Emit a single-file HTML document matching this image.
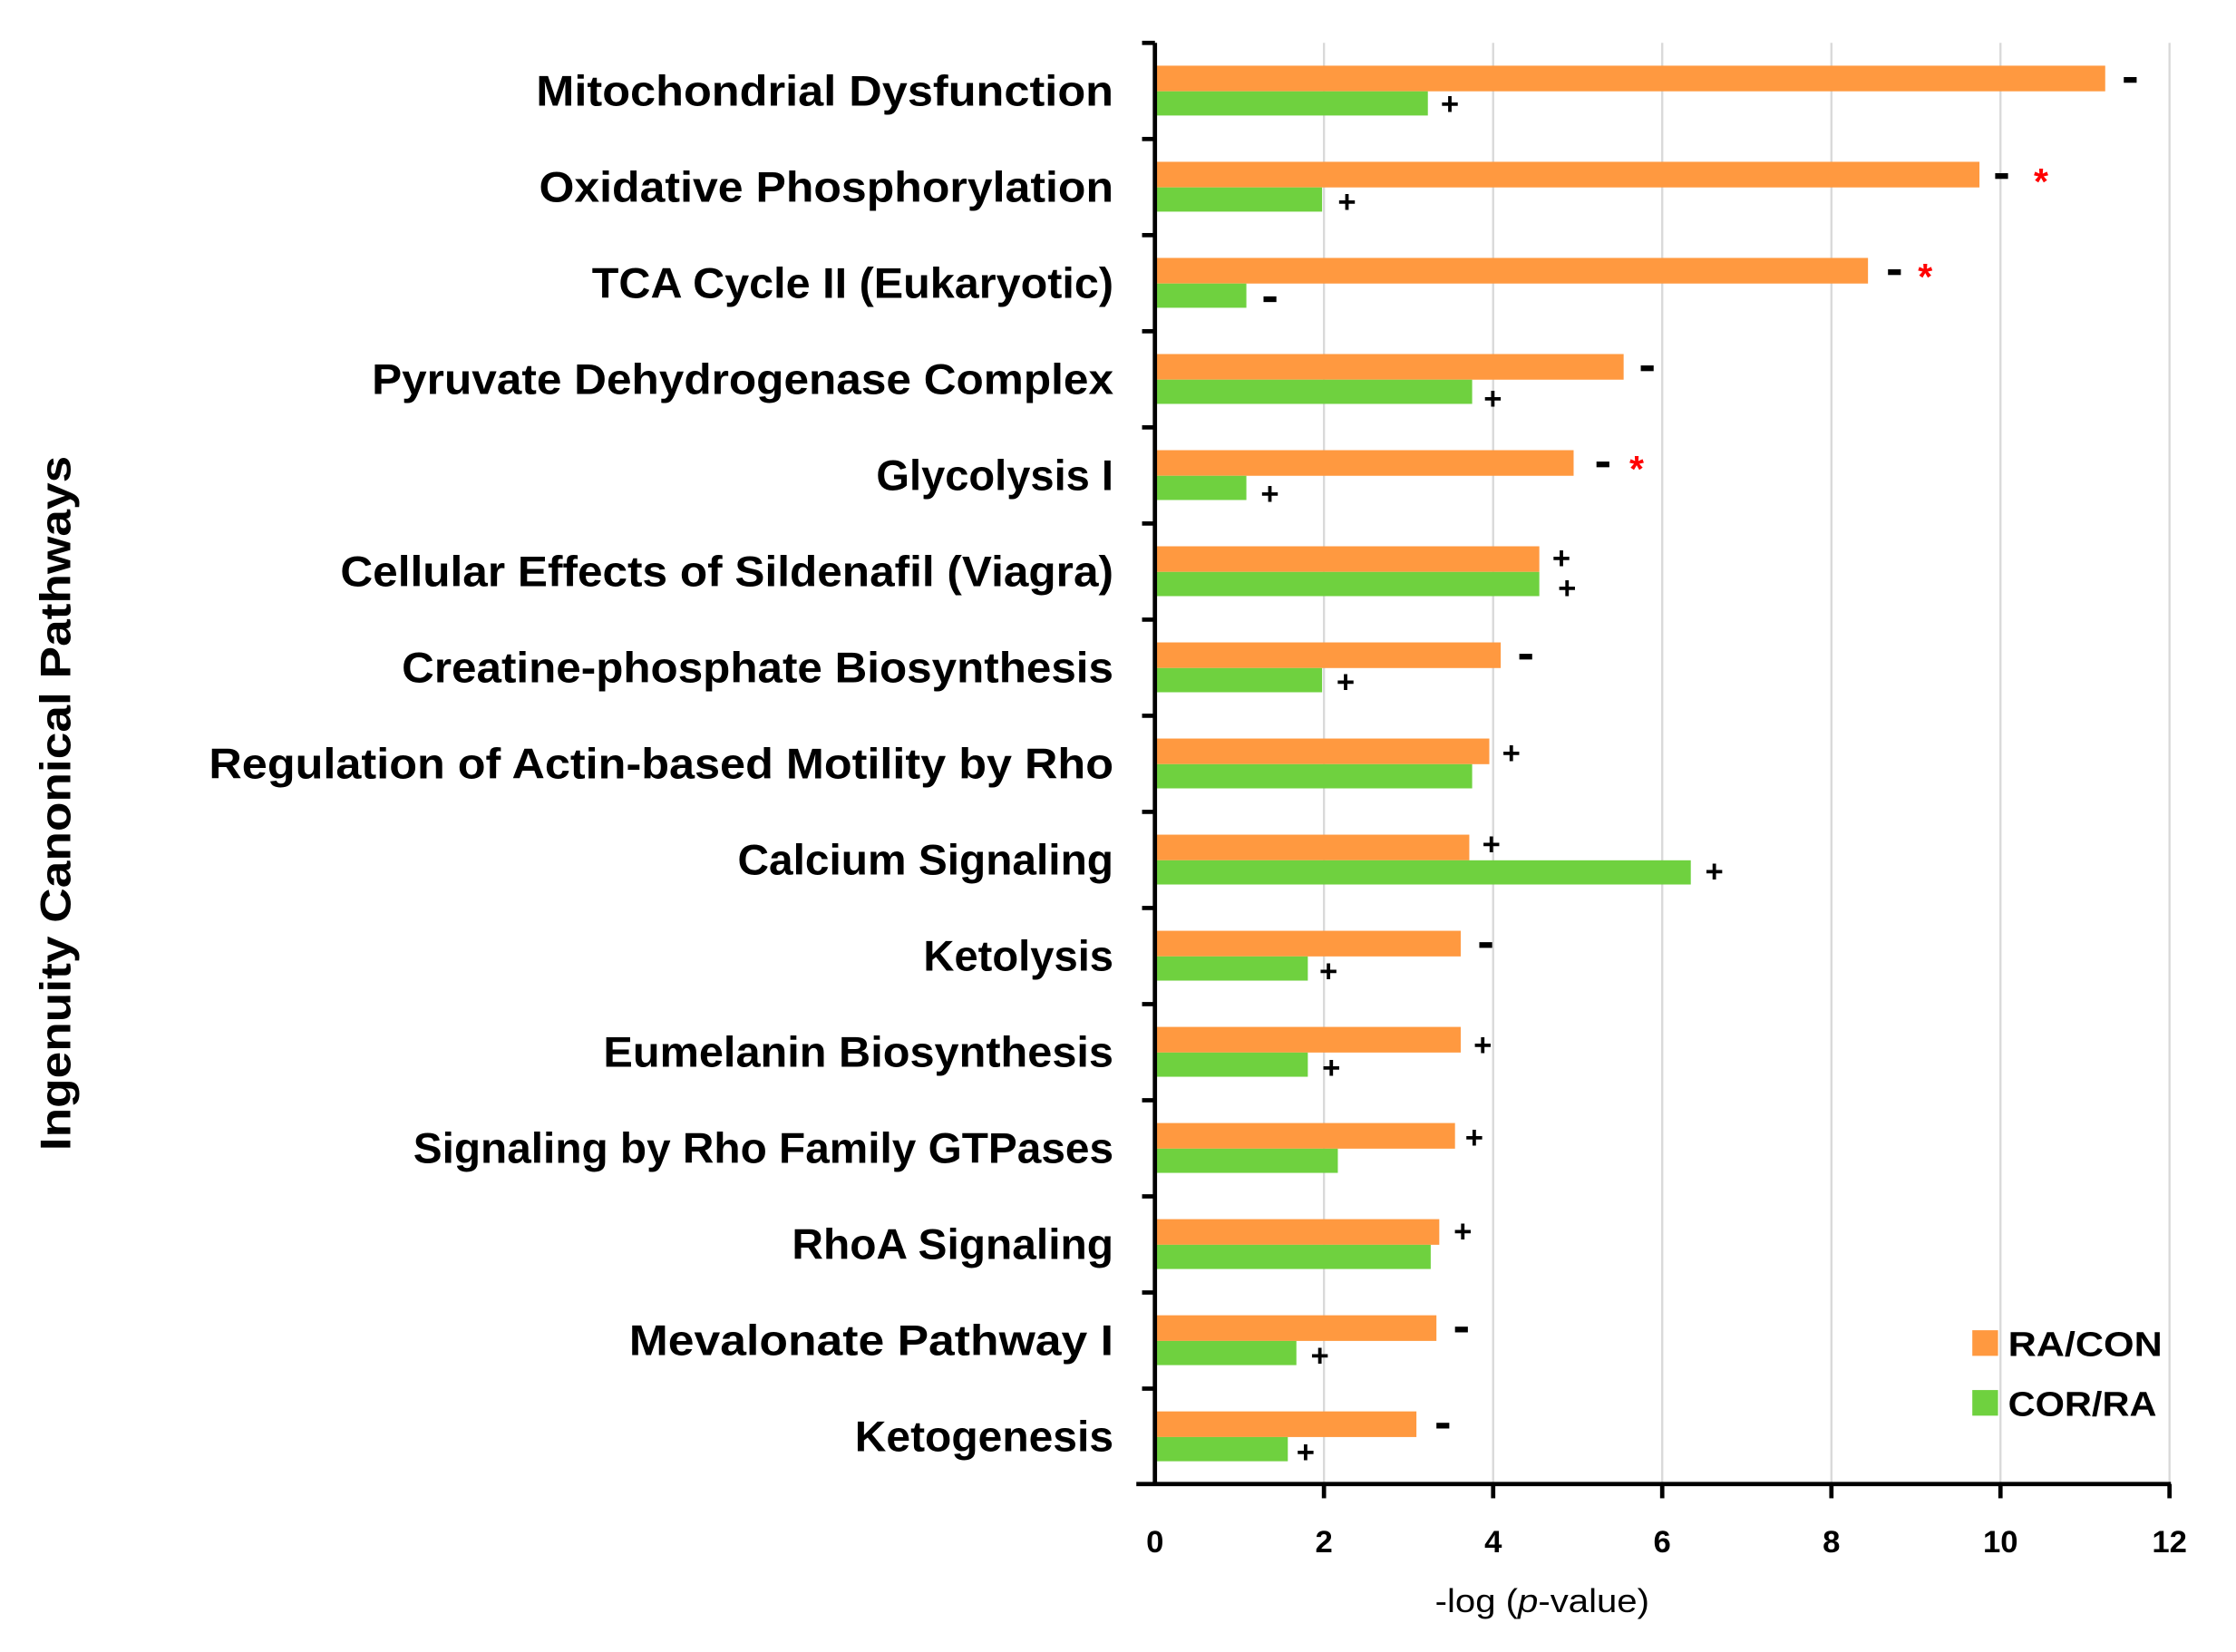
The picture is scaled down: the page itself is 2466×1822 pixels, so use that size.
<!DOCTYPE html>
<html><head><meta charset="utf-8"><style>
html,body{margin:0;padding:0;background:#fff;}
svg{display:block;}
text{font-family:"Liberation Sans",sans-serif;}
</style></head><body>
<svg width="2466" height="1822" viewBox="0 0 2466 1822" xmlns="http://www.w3.org/2000/svg">
<rect width="2466" height="1822" fill="#fff"/>
<g transform="translate(-12.3,0.18) scale(1.576,1.5706)">
<g stroke="#d9d9d9" stroke-width="1.5">
<line x1="934.3" y1="30" x2="934.3" y2="1042"/>
<line x1="1052.7" y1="30" x2="1052.7" y2="1042"/>
<line x1="1171" y1="30" x2="1171" y2="1042"/>
<line x1="1289.4" y1="30" x2="1289.4" y2="1042"/>
<line x1="1407.7" y1="30" x2="1407.7" y2="1042"/>
<line x1="1526" y1="30" x2="1526" y2="1042"/>
</g>
<g fill="#FF9940">
<rect x="816" y="46" width="665" height="18"/>
<rect x="816" y="113.5" width="577" height="18"/>
<rect x="816" y="181" width="499" height="18"/>
<rect x="816" y="248.5" width="328" height="18"/>
<rect x="816" y="316" width="293" height="18"/>
<rect x="816" y="383.5" width="269" height="18"/>
<rect x="816" y="451" width="242" height="18"/>
<rect x="816" y="518.5" width="234" height="18"/>
<rect x="816" y="586" width="220" height="18"/>
<rect x="816" y="653.5" width="214" height="18"/>
<rect x="816" y="721" width="214" height="18"/>
<rect x="816" y="788.5" width="210" height="18"/>
<rect x="816" y="856" width="199" height="18"/>
<rect x="816" y="923.5" width="197" height="18"/>
<rect x="816" y="991" width="183" height="18"/>
</g>
<g fill="#6FD13F">
<rect x="816" y="64" width="191" height="17"/>
<rect x="816" y="131.5" width="117" height="17"/>
<rect x="816" y="199" width="64" height="17"/>
<rect x="816" y="266.5" width="222" height="17"/>
<rect x="816" y="334" width="64" height="17"/>
<rect x="816" y="401.5" width="269" height="17"/>
<rect x="816" y="469" width="117" height="17"/>
<rect x="816" y="536.5" width="222" height="17"/>
<rect x="816" y="604" width="375" height="17"/>
<rect x="816" y="671.5" width="107" height="17"/>
<rect x="816" y="739" width="107" height="17"/>
<rect x="816" y="806.5" width="128" height="17"/>
<rect x="816" y="874" width="193" height="17"/>
<rect x="816" y="941.5" width="99" height="17"/>
<rect x="816" y="1009" width="93" height="17"/>
</g>
<line x1="816" y1="30" x2="816" y2="1043" stroke="#000" stroke-width="3"/>
<line x1="803" y1="1042" x2="1527" y2="1042" stroke="#000" stroke-width="3"/>
<g stroke="#000" stroke-width="3">
<line x1="807" y1="30" x2="816" y2="30"/><line x1="807" y1="97.5" x2="816" y2="97.5"/><line x1="807" y1="165" x2="816" y2="165"/><line x1="807" y1="232.5" x2="816" y2="232.5"/><line x1="807" y1="300" x2="816" y2="300"/><line x1="807" y1="367.5" x2="816" y2="367.5"/><line x1="807" y1="435" x2="816" y2="435"/><line x1="807" y1="502.5" x2="816" y2="502.5"/><line x1="807" y1="570" x2="816" y2="570"/><line x1="807" y1="637.5" x2="816" y2="637.5"/><line x1="807" y1="705" x2="816" y2="705"/><line x1="807" y1="772.5" x2="816" y2="772.5"/><line x1="807" y1="840" x2="816" y2="840"/><line x1="807" y1="907.5" x2="816" y2="907.5"/><line x1="807" y1="975" x2="816" y2="975"/>
<line x1="934.3" y1="1042" x2="934.3" y2="1052"/><line x1="1052.7" y1="1042" x2="1052.7" y2="1052"/><line x1="1171" y1="1042" x2="1171" y2="1052"/><line x1="1289.4" y1="1042" x2="1289.4" y2="1052"/><line x1="1407.7" y1="1042" x2="1407.7" y2="1052"/><line x1="1526" y1="1042" x2="1526" y2="1052"/>
</g>
<g font-size="22" font-weight="bold" text-anchor="middle" fill="#000">
<text x="816" y="1090">0</text><text x="934.3" y="1090">2</text><text x="1052.7" y="1090">4</text><text x="1171" y="1090">6</text><text x="1289.4" y="1090">8</text><text x="1407.7" y="1090">10</text><text x="1526" y="1090">12</text>
</g>
<text x="1012" y="1132" font-size="23" textLength="150" lengthAdjust="spacingAndGlyphs">-log (<tspan font-style="italic">p</tspan>-value)</text>
<g font-size="30" font-weight="bold" text-anchor="end" fill="#000">
<text x="787" y="74" textLength="404" lengthAdjust="spacingAndGlyphs">Mitochondrial Dysfunction</text>
<text x="787" y="141.5" textLength="402" lengthAdjust="spacingAndGlyphs">Oxidative Phosphorylation</text>
<text x="787" y="209" textLength="365" lengthAdjust="spacingAndGlyphs">TCA Cycle II (Eukaryotic)</text>
<text x="787" y="276.5" textLength="519" lengthAdjust="spacingAndGlyphs">Pyruvate Dehydrogenase Complex</text>
<text x="787" y="344" textLength="166" lengthAdjust="spacingAndGlyphs">Glycolysis I</text>
<text x="787" y="411.5" textLength="541" lengthAdjust="spacingAndGlyphs">Cellular Effects of Sildenafil (Viagra)</text>
<text x="787" y="479" textLength="498" lengthAdjust="spacingAndGlyphs">Creatine-phosphate Biosynthesis</text>
<text x="787" y="546.5" textLength="633" lengthAdjust="spacingAndGlyphs">Regulation of Actin-based Motility by Rho</text>
<text x="787" y="614" textLength="263" lengthAdjust="spacingAndGlyphs">Calcium Signaling</text>
<text x="787" y="681.5" textLength="133" lengthAdjust="spacingAndGlyphs">Ketolysis</text>
<text x="787" y="749" textLength="357" lengthAdjust="spacingAndGlyphs">Eumelanin Biosynthesis</text>
<text x="787" y="816.5" textLength="490" lengthAdjust="spacingAndGlyphs">Signaling by Rho Family GTPases</text>
<text x="787" y="884" textLength="225" lengthAdjust="spacingAndGlyphs">RhoA Signaling</text>
<text x="787" y="951.5" textLength="339" lengthAdjust="spacingAndGlyphs">Mevalonate Pathway I</text>
<text x="787" y="1019" textLength="181" lengthAdjust="spacingAndGlyphs">Ketogenesis</text>
</g>
<text transform="translate(57,564) rotate(-90)" font-size="30" font-weight="bold" text-anchor="middle" textLength="488" lengthAdjust="spacingAndGlyphs">Ingenuity Canonical Pathways</text>
<g fill="#000">
<rect x="1494" y="54" width="9" height="4"/>
<rect x="1404" y="121.5" width="9" height="4"/>
<rect x="1329" y="189" width="9" height="4"/>
<rect x="1156" y="256.5" width="9" height="4"/>
<rect x="1125" y="324" width="9" height="4"/>
<rect x="1071" y="459" width="9" height="4"/>
<rect x="1043" y="661.5" width="9" height="4"/>
<rect x="1013" y="999" width="9" height="4"/>
<rect x="1026" y="931.5" width="9" height="4"/>
<rect x="892" y="208" width="9" height="4"/>
</g>
<g fill="#ff0000" font-size="26" font-weight="bold">
<text x="1431" y="136">*</text>
<text x="1350" y="203">*</text>
<text x="1148" y="338">*</text>
</g>
<g fill="#000" font-size="22" font-weight="bold">
<text x="1016" y="80">+</text>
<text x="944" y="149">+</text>
<text x="1046" y="287">+</text>
<text x="890" y="354">+</text>
<text x="1094" y="399">+</text>
<text x="1098" y="420">+</text>
<text x="943" y="486">+</text>
<text x="1059" y="536">+</text>
<text x="1045" y="600">+</text>
<text x="1201" y="619">+</text>
<text x="931" y="689">+</text>
<text x="1039" y="741">+</text>
<text x="933" y="757">+</text>
<text x="1033" y="806">+</text>
<text x="1025" y="872">+</text>
<text x="925" y="959">+</text>
<text x="915" y="1027">+</text>
</g>
<rect x="1388" y="934" width="18" height="18" fill="#FF9940"/>
<rect x="1388" y="976" width="18" height="18" fill="#6FD13F"/>
<g font-size="24" font-weight="bold">
<text x="1413" y="952" textLength="108" lengthAdjust="spacingAndGlyphs">RA/CON</text>
<text x="1413" y="994" textLength="104" lengthAdjust="spacingAndGlyphs">COR/RA</text>
</g>
</g>
</svg>
</body></html>
